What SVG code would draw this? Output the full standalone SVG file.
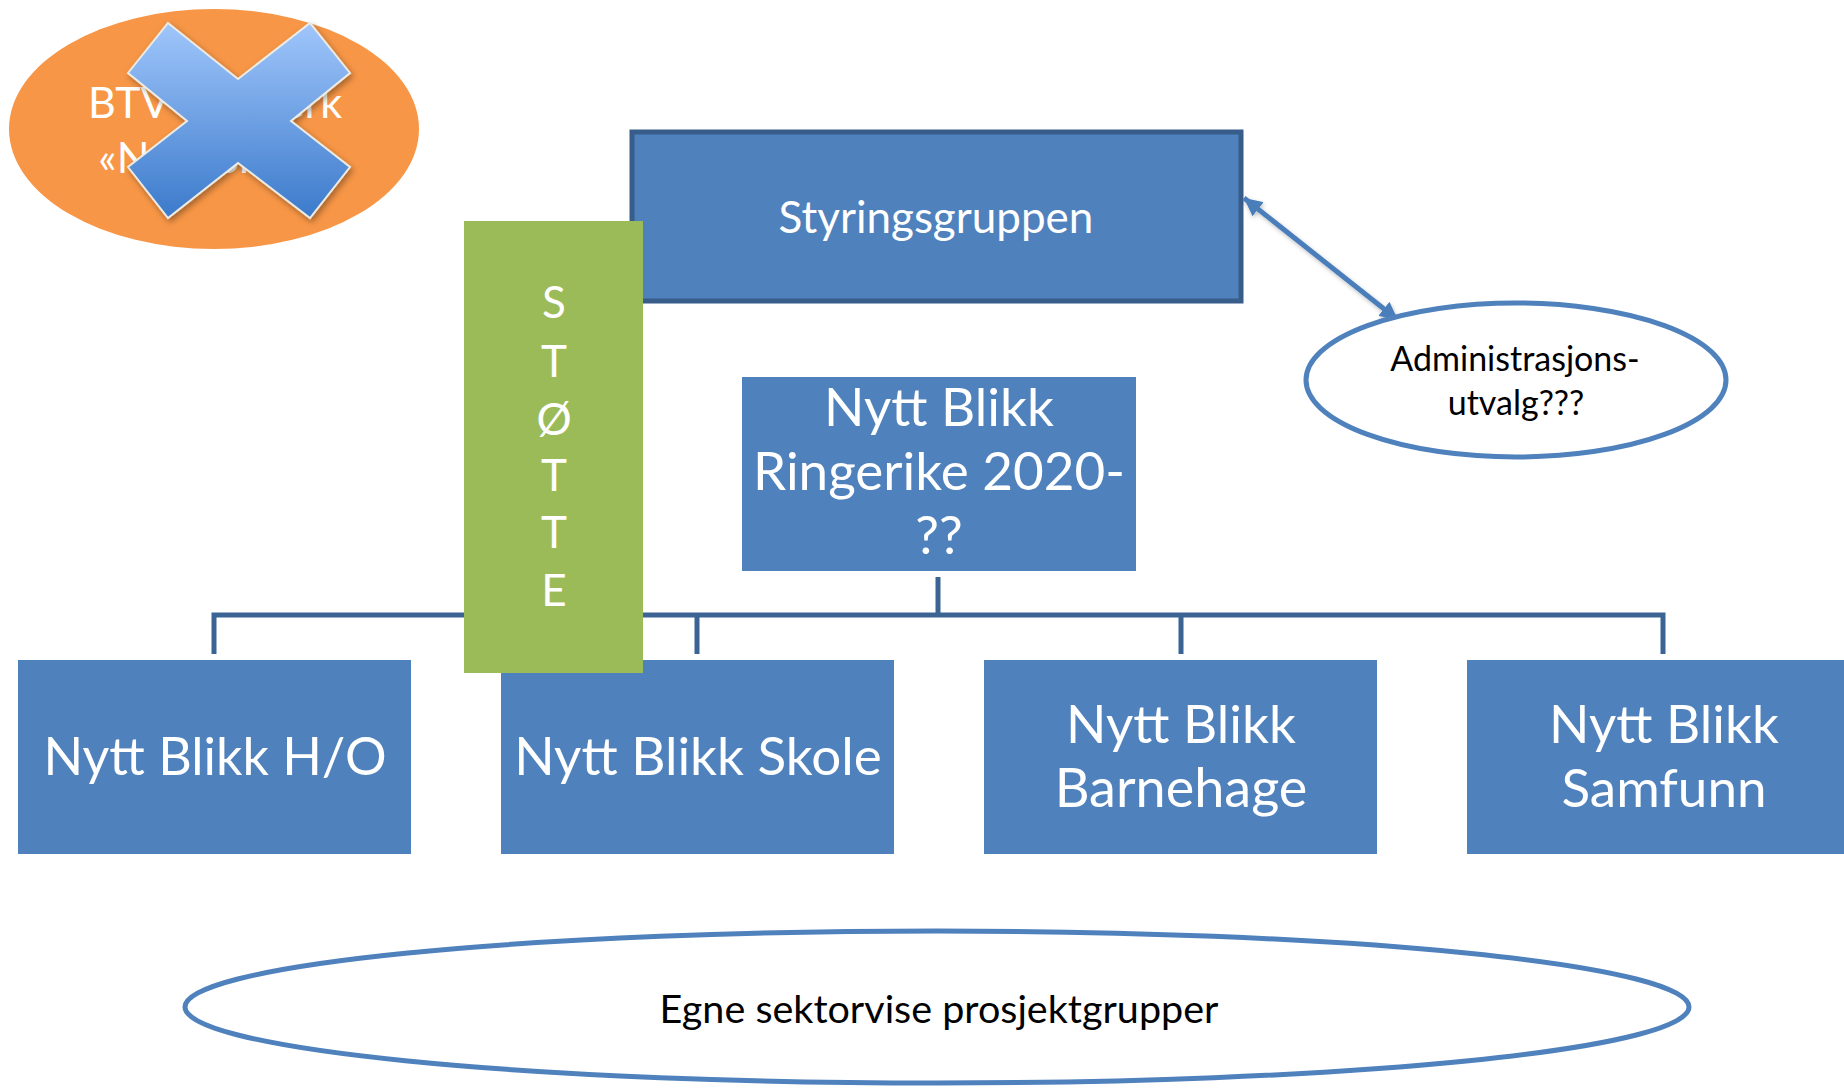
<svg xmlns="http://www.w3.org/2000/svg" width="1844" height="1088" viewBox="0 0 1844 1088">
<style>
.box{fill:#4f81bd}
.wt{fill:#ffffff;font-family:Lato,"Liberation Sans",sans-serif;text-anchor:middle}
.bt{fill:#000000;font-family:Lato,"Liberation Sans",sans-serif;text-anchor:middle}
.tree{fill:none;stroke:#3b6495;stroke-width:5}
.arr{fill:none;stroke:#4a7ebb;stroke-width:5}
.ell{fill:#ffffff;stroke:#4f81bd;stroke-width:5}
</style>
<defs>
<linearGradient id="xg" x1="0" y1="0" x2="0" y2="1">
<stop offset="0" stop-color="#a0c6fb"/>
<stop offset="1" stop-color="#3b7acb"/>
</linearGradient>
<filter id="sh" x="-20%" y="-20%" width="140%" height="140%">
<feDropShadow dx="2" dy="3" stdDeviation="3" flood-color="#000" flood-opacity="0.35"/>
</filter>
<filter id="sh2" x="-20%" y="-20%" width="140%" height="140%">
<feDropShadow dx="1" dy="2" stdDeviation="2" flood-color="#000" flood-opacity="0.25"/>
</filter>
<marker id="ah" markerUnits="userSpaceOnUse" markerWidth="20" markerHeight="18" refX="18" refY="9" orient="auto-start-reverse">
<path d="M0,0 L18,9 L0,18 Z" fill="#4a7ebb"/>
</marker>
</defs>

<g id="btv">
<ellipse cx="214" cy="129" rx="205" ry="120" fill="#f79646"/>
<text class="wt" x="215" y="118" font-size="43">BTV-nettverk</text>
<text class="wt" x="210" y="173" font-size="43">«Nytt Blikk»</text>
</g>

<g id="cross">
<polygon points="168,23 238,79 310,23 350,73 291,121 350,167 310,218 238,163 168,218 128,167 187,121 128,73" fill="url(#xg)" stroke="#ecebe4" stroke-width="2" filter="url(#sh)"/>
</g>

<g id="styringsgruppen">
<rect x="632" y="132" width="609" height="169" class="box" stroke="#385d8a" stroke-width="5"/>
<text class="wt" x="936" y="233" font-size="44">Styringsgruppen</text>
</g>

<g id="ringerike">
<rect x="742" y="377" width="394" height="194" class="box"/>
<text class="wt" x="939" y="426" font-size="53">Nytt Blikk</text>
<text class="wt" x="939" y="490" font-size="53">Ringerike 2020-</text>
<text class="wt" x="939" y="554" font-size="53">??</text>
</g>

<g id="ho">
<rect x="18" y="660" width="393" height="194" class="box"/>
<text class="wt" x="215" y="775" font-size="52">Nytt Blikk H/O</text>
</g>
<g id="skole">
<rect x="501" y="660" width="393" height="194" class="box"/>
<text class="wt" x="698" y="775" font-size="53">Nytt Blikk Skole</text>
</g>
<g id="barnehage">
<rect x="984" y="660" width="393" height="194" class="box"/>
<text class="wt" x="1181" y="743" font-size="53">Nytt Blikk</text>
<text class="wt" x="1181" y="807" font-size="54">Barnehage</text>
</g>
<g id="samfunn">
<rect x="1467" y="660" width="394" height="194" class="box"/>
<text class="wt" x="1664" y="743" font-size="53">Nytt Blikk</text>
<text class="wt" x="1664" y="807" font-size="53">Samfunn</text>
</g>

<g id="connectors">
<path class="tree" d="M938,577 V615 M214,654 V615 H1663 V654 M697,615 V654 M1181,615 V654"/>
<line class="arr" x1="936" y1="303" x2="936" y2="380" marker-end="url(#ah)" filter="url(#sh2)"/>
<line class="arr" x1="1244" y1="198" x2="1398" y2="320" marker-start="url(#ah)" marker-end="url(#ah)" filter="url(#sh2)"/>
</g>

<g id="stotte">
<rect x="464" y="221" width="179" height="452" fill="#9bbb59"/>
<text class="wt" x="554" y="318" font-size="44">S</text>
<text class="wt" x="554" y="377" font-size="44">T</text>
<text class="wt" x="554" y="435" font-size="44">Ø</text>
<text class="wt" x="554" y="491" font-size="44">T</text>
<text class="wt" x="554" y="548" font-size="44">T</text>
<text class="wt" x="554" y="606" font-size="44">E</text>
</g>

<g id="admin">
<ellipse class="ell" cx="1516" cy="380" rx="210" ry="77"/>
<text class="bt" x="1515" y="371" font-size="34">Administrasjons-</text>
<text class="bt" x="1516" y="415" font-size="34">utvalg???</text>
</g>

<g id="egne">
<ellipse class="ell" cx="937" cy="1007" rx="752" ry="76"/>
<text class="bt" x="939" y="1023" font-size="39.5">Egne sektorvise prosjektgrupper</text>
</g>
</svg>
